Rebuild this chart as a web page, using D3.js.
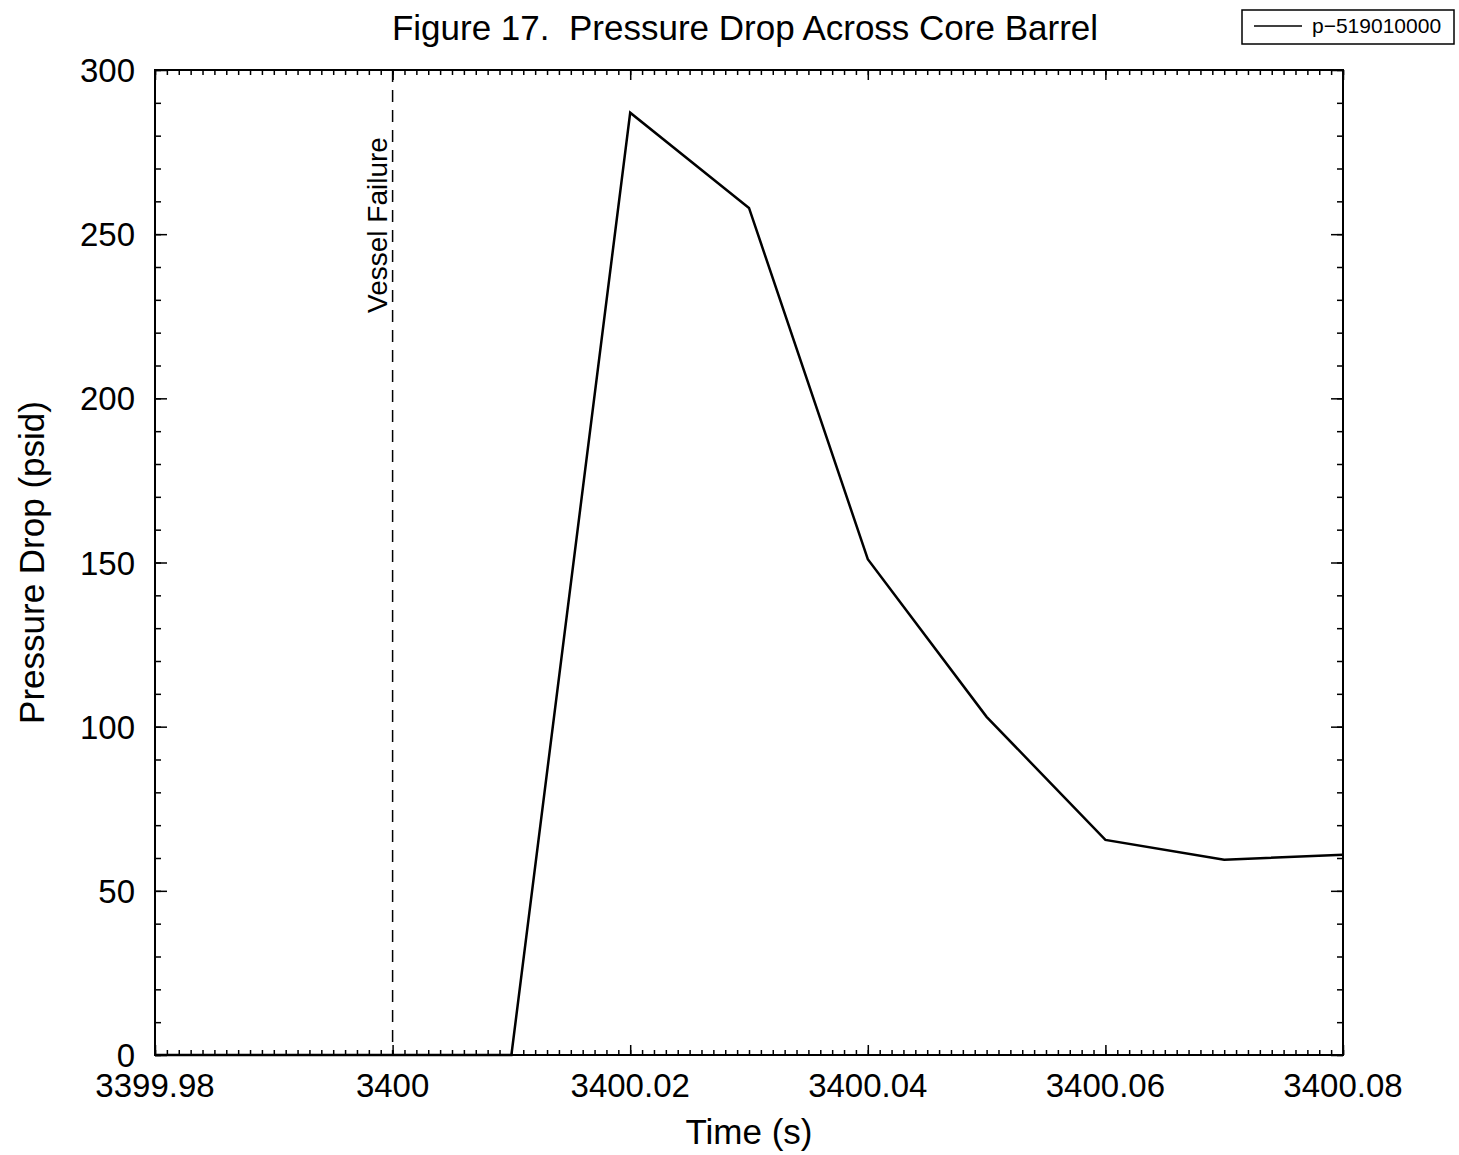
<!DOCTYPE html>
<html>
<head>
<meta charset="utf-8">
<script src="https://cdn.jsdelivr.net/npm/d3@7"></script>
<style>
  body { margin: 0; background: #fff; }
  svg text { font-family: "Liberation Sans", Arial, sans-serif; fill: #000; }
</style>
</head>
<body>
<script>
// data
var times = [3399.98, 3400.01, 3400.02, 3400.03, 3400.04, 3400.05, 3400.06, 3400.07, 3400.08];
var pressure = [0, 0, 287, 258, 151, 103, 65.5, 59.5, 61];
var xTickVals = [3399.98, 3400, 3400.02, 3400.04, 3400.06, 3400.08];
var xTickLabels = ['3399.98', '3400', '3400.02', '3400.04', '3400.06', '3400.08'];
var yTickVals = [0, 50, 100, 150, 200, 250, 300];
var failureTime = 3400;
var seriesName = 'p\u2212519010000';

var width = 1459, height = 1155;
var plotL = 155, plotR = 1343, plotT = 70, plotB = 1055;

var svg = d3.select('body').append('svg')
  .attr('width', width)
  .attr('height', height);

var x = d3.scaleLinear().domain([3399.98, 3400.08]).range([plotL, plotR]);
var y = d3.scaleLinear().domain([0, 300]).range([plotB, plotT]);

// minor ticks
var xMinor = d3.range(0, 101).map(function(i){ return 3399.98 + i * 0.001; });
var yMinor = d3.range(0, 31).map(function(i){ return i * 10; });

function tickAxis(axisFn, scale, vals, size) {
  return axisFn(scale).tickValues(vals).tickSize(size).tickFormat('');
}

var g = svg.append('g');

// ticks on all four sides, pointing inward
g.append('g').attr('transform', 'translate(0,' + plotB + ')')
  .call(tickAxis(d3.axisTop, x, xMinor, 5));
g.append('g').attr('transform', 'translate(0,' + plotB + ')')
  .call(tickAxis(d3.axisTop, x, xTickVals, 10));
g.append('g').attr('transform', 'translate(0,' + plotT + ')')
  .call(tickAxis(d3.axisBottom, x, xMinor, 5));
g.append('g').attr('transform', 'translate(0,' + plotT + ')')
  .call(tickAxis(d3.axisBottom, x, xTickVals, 10));
g.append('g').attr('transform', 'translate(' + plotL + ',0)')
  .call(tickAxis(d3.axisRight, y, yMinor, 6));
g.append('g').attr('transform', 'translate(' + plotL + ',0)')
  .call(tickAxis(d3.axisRight, y, yTickVals, 12));
g.append('g').attr('transform', 'translate(' + plotR + ',0)')
  .call(tickAxis(d3.axisLeft, y, yMinor, 6));
g.append('g').attr('transform', 'translate(' + plotR + ',0)')
  .call(tickAxis(d3.axisLeft, y, yTickVals, 12));

g.selectAll('.domain').remove();
g.selectAll('.tick line').attr('stroke', '#000').attr('stroke-width', 1.5);

// frame
svg.append('rect')
  .attr('x', plotL).attr('y', plotT)
  .attr('width', plotR - plotL).attr('height', plotB - plotT)
  .attr('fill', 'none').attr('stroke', '#000').attr('stroke-width', 2);

// tick labels
svg.selectAll('.xlab').data(xTickVals).enter().append('text')
  .attr('x', function(d){ return x(d); })
  .attr('y', plotB + 42)
  .attr('text-anchor', 'middle')
  .style('font-size', '33px')
  .text(function(d, i){ return xTickLabels[i]; });

svg.selectAll('.ylab').data(yTickVals).enter().append('text')
  .attr('x', plotL - 20)
  .attr('y', function(d){ return y(d) + 12; })
  .attr('text-anchor', 'end')
  .style('font-size', '33px')
  .text(function(d){ return d; });

// vessel failure marker
svg.append('line')
  .attr('x1', x(failureTime)).attr('x2', x(failureTime))
  .attr('y1', plotT).attr('y2', plotB)
  .attr('stroke', '#000').attr('stroke-width', 1.5)
  .attr('stroke-dasharray', '12,8');

svg.append('text')
  .attr('transform', 'translate(' + (x(failureTime) - 6) + ',' + 225 + ') rotate(-90)')
  .attr('text-anchor', 'middle')
  .style('font-size', '28px')
  .text('Vessel Failure');

// data line
var line = d3.line()
  .x(function(d, i){ return x(times[i]); })
  .y(function(d){ return y(d); });

svg.append('path')
  .datum(pressure)
  .attr('d', line)
  .attr('fill', 'none')
  .attr('stroke', '#000')
  .attr('stroke-width', 2.5)
  .attr('stroke-linejoin', 'miter');

// titles
svg.append('text')
  .attr('x', 745).attr('y', 40)
  .attr('text-anchor', 'middle')
  .style('font-size', '35px')
  .style('white-space', 'pre')
  .text('Figure 17.  Pressure Drop Across Core Barrel');

svg.append('text')
  .attr('x', 749).attr('y', 1144)
  .attr('text-anchor', 'middle')
  .style('font-size', '35px')
  .text('Time (s)');

svg.append('text')
  .attr('transform', 'translate(44,' + ((plotT + plotB) / 2) + ') rotate(-90)')
  .attr('text-anchor', 'middle')
  .style('font-size', '35px')
  .text('Pressure Drop (psid)');

// legend
var legend = svg.append('g').attr('transform', 'translate(1242,10)');
legend.append('rect')
  .attr('width', 212).attr('height', 34)
  .attr('fill', '#fff').attr('stroke', '#000').attr('stroke-width', 1.5);
legend.append('line')
  .attr('x1', 12).attr('x2', 60).attr('y1', 16).attr('y2', 16)
  .attr('stroke', '#000').attr('stroke-width', 1.5);
legend.append('text')
  .attr('x', 70).attr('y', 23)
  .style('font-size', '21px')
  .text(seriesName);
</script>
</body>
</html>
